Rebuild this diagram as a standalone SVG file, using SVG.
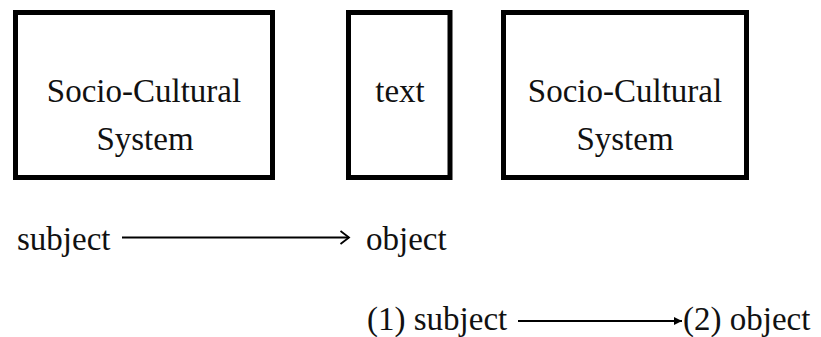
<svg xmlns="http://www.w3.org/2000/svg" width="821" height="337" viewBox="0 0 821 337">
  <style>
    .box { fill: #fff; stroke: #000; stroke-width: 5; }
    .lbl { font-family: "Liberation Serif", "DejaVu Serif", serif; font-size: 33px; fill: #111; }
    .mid { text-anchor: middle; }
    .wire { stroke: #000; stroke-width: 1.8; fill: none; }
  </style>
  <defs>
    <marker id="openHead" markerWidth="14" markerHeight="18" refX="11" refY="9" orient="auto" markerUnits="userSpaceOnUse">
      <path d="M2.5,2.5 L11,9 L2.5,15.5" fill="none" stroke="#000" stroke-width="1.8"/>
    </marker>
    <marker id="solidHead" markerWidth="10" markerHeight="10" refX="8" refY="5" orient="auto" markerUnits="userSpaceOnUse">
      <path d="M0,1 L8,5 L0,9 Z" fill="#000"/>
    </marker>
  </defs>
  <rect width="821" height="337" fill="#fff"/>

  <g id="system-left">
    <rect class="box" x="15.5" y="12.5" width="257" height="165"/>
    <text class="lbl mid" x="144" y="102">Socio-Cultural</text>
    <text class="lbl mid" x="145" y="150">System</text>
  </g>

  <g id="text-node">
    <rect class="box" x="348.5" y="12.5" width="101.5" height="165"/>
    <text class="lbl mid" x="400" y="102">text</text>
  </g>

  <g id="system-right">
    <rect class="box" x="503.5" y="12.5" width="243" height="165"/>
    <text class="lbl mid" x="625" y="102">Socio-Cultural</text>
    <text class="lbl mid" x="625" y="150">System</text>
  </g>

  <g id="labels">
    <text class="lbl" x="17" y="250">subject</text>
    <text class="lbl" x="366" y="250">object</text>
    <text class="lbl" x="367" y="330">(1) subject</text>
    <text class="lbl" x="683" y="330">(2) object</text>
  </g>

  <g id="connectors">
    <line class="wire" x1="518" y1="321" x2="682" y2="321" marker-end="url(#solidHead)"/>
    <line class="wire" x1="122" y1="237.5" x2="349" y2="237.5" marker-end="url(#openHead)"/>
  </g>
</svg>
